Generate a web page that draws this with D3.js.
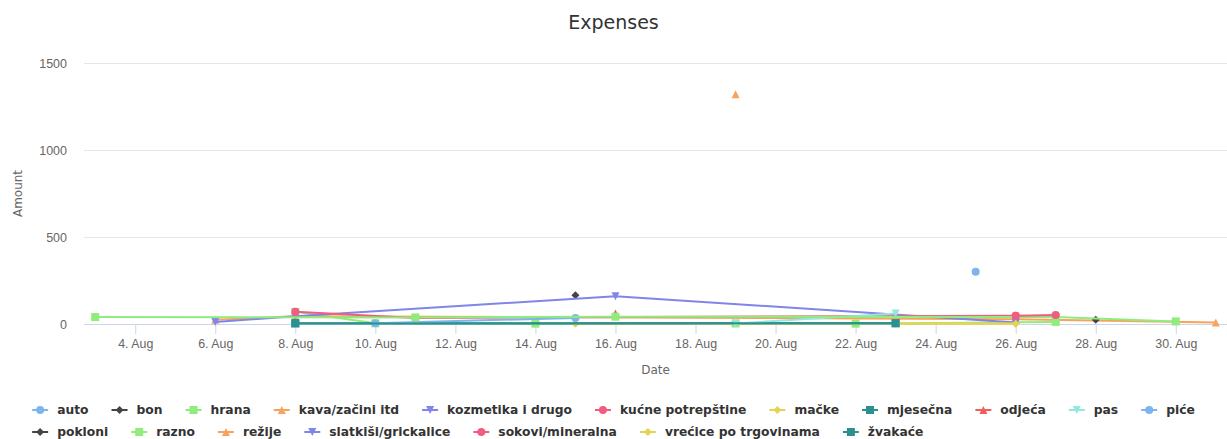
<!DOCTYPE html>
<html>
<head>
<meta charset="utf-8">
<script src="https://cdn.jsdelivr.net/npm/d3@7"></script>
<style>
  html, body { margin: 0; padding: 0; background: #fff; }
  svg { display: block; font-family: "DejaVu Sans", "Lucida Sans Unicode", Arial, sans-serif; }
</style>
</head>
<body>
<svg id="chart" width="1227" height="439"></svg>
<script>
// Expense categories, in legend order
const categories = [
  "auto", "bon", "hrana", "kava/začini itd", "kozmetika i drugo",
  "kućne potrepštine", "mačke", "mjesečna", "odjeća", "pas", "piće",
  "pokloni", "razno", "režije", "slatkiši/grickalice", "sokovi/mineralna",
  "vrećice po trgovinama", "žvakaće"
];

// Day of August for each entry, per category
const days = [
  [25],
  [15],
  [8, 10, 14, 19, 22, 27],
  [6, 8, 26, 31],
  [6, 8, 16, 26],
  [8, 11, 26],
  [15, 26],
  [8, 23],
  [16],
  [19, 23],
  [10, 15],
  [28],
  [3, 11, 16, 27, 30],
  [19],
  [26],
  [26, 27],
  [23, 26],
  [8, 23]
];

// Amount spent for each entry, per category
const amounts = [
  [300],
  [165],
  [70, 4, 2, 3, 2, 12],
  [25, 45, 28, 8],
  [12, 45, 160, 8],
  [70, 35, 48],
  [2, 3],
  [5, 5],
  [60],
  [3, 60],
  [5, 35],
  [25],
  [40, 38, 42, 40, 15],
  [1320],
  [6],
  [48, 52],
  [3, 2],
  [3, 4]
];

const yTicks = [0, 500, 1000, 1500];

const palette = ["#7cb5ec", "#434348", "#90ed7d", "#f7a35c", "#8085e9",
                 "#f15c80", "#e4d354", "#2b908f", "#f45b5b", "#91e8e1"];
const shapes = ["circle", "diamond", "square", "triangle", "triangle-down"];

const YEAR = 2019;
const date = d => new Date(YEAR, 7, d);

const series = categories.map((name, i) => ({
  name,
  color: palette[i % palette.length],
  shape: shapes[i % shapes.length],
  points: days[i].map((d, j) => ({ t: date(d), v: amounts[i][j] }))
}));

const svg = d3.select("#chart");
const W = 1227, H = 439;
const plot = { left: 84, right: 1227, top: 63, bottom: 324 };

// x domain padded by 1% of the data span on each side
const allT = series.flatMap(s => s.points.map(p => +p.t));
const tMin = d3.min(allT), tMax = d3.max(allT);
const pad = (tMax - tMin) * 0.01;
const x = d3.scaleTime()
  .domain([new Date(tMin - pad), new Date(tMax + pad)])
  .range([plot.left, plot.right]);
const y = d3.scaleLinear().domain([0, 1500]).range([plot.bottom, plot.top]);

// Title
svg.append("text")
  .attr("x", W / 2).attr("y", 29)
  .attr("text-anchor", "middle")
  .style("font-size", "19px").style("fill", "#333")
  .text("Expenses");

// Horizontal grid lines and y labels
const yAxis = d3.axisLeft(y).tickValues(yTicks).tickSize(-(plot.right - plot.left)).tickPadding(17)
  .tickFormat(d3.format("d"));
const gy = svg.append("g").attr("transform", `translate(${plot.left},0)`).call(yAxis);
gy.select(".domain").remove();
gy.selectAll(".tick line").attr("stroke", "#e6e6e6");
gy.selectAll(".tick text").style("font-size", "12.5px").style("fill", "#666").attr("font-family", null);

svg.append("text")
  .attr("transform", `translate(22,${(plot.top + plot.bottom) / 2}) rotate(-90)`)
  .attr("text-anchor", "middle")
  .style("font-size", "12px").style("fill", "#666")
  .text("Amount");

// X axis: every second day
const xTicks = d3.range(4, 31, 2).map(date);
const xAxis = d3.axisBottom(x).tickValues(xTicks).tickSize(10).tickPadding(5)
  .tickFormat(d => `${d.getDate()}. Aug`);
const gx = svg.append("g").attr("transform", `translate(0,${plot.bottom})`).call(xAxis);
gx.select(".domain").attr("stroke", "#ccd6eb").attr("d", `M${plot.left},0.5H${plot.right}`);
gx.selectAll(".tick line").attr("stroke", "#ccd6eb");
gx.selectAll(".tick text").style("font-size", "12.4px").style("fill", "#666").attr("font-family", null);

svg.append("text")
  .attr("x", (plot.left + plot.right) / 2).attr("y", 374)
  .attr("text-anchor", "middle")
  .style("font-size", "12px").style("fill", "#666")
  .text("Date");

// Marker path generator
function markerPath(shape, r) {
  switch (shape) {
    case "circle": return d3.symbol(d3.symbolCircle, Math.PI * r * r)();
    case "square": return `M${-r},${-r}H${r}V${r}H${-r}Z`;
    case "diamond": return `M0,${-r}L${r},0L0,${r}L${-r},0Z`;
    case "triangle": return `M0,${-r}L${r},${r}L${-r},${r}Z`;
    case "triangle-down": return `M${-r},${-r}L${r},${-r}L0,${r}Z`;
  }
}

const line = d3.line().x(p => x(p.t)).y(p => y(p.v));

const gSeries = svg.append("g");
series.forEach(s => {
  const g = gSeries.append("g");
  if (s.points.length > 1) {
    g.append("path")
      .attr("d", line(s.points))
      .attr("fill", "none")
      .attr("stroke", s.color)
      .attr("stroke-width", 2)
      .attr("stroke-linejoin", "round")
      .attr("stroke-linecap", "round");
  }
  g.selectAll("path.m").data(s.points).join("path")
    .attr("class", "m")
    .attr("transform", p => `translate(${x(p.t)},${y(p.v)})`)
    .attr("d", markerPath(s.shape, 4))
    .attr("fill", s.color);
});

// Legend: items flow left to right, wrap into rows, whole box centred
const legend = svg.append("g");
const rowY = [410, 432];
const textOffset = 25, itemDistance = 23, maxWidth = W - 16;
const items = series.map(s => {
  const g = legend.append("g");
  const t = g.append("text")
    .attr("x", textOffset).attr("dy", "0.35em")
    .style("font-size", "12.3px").style("font-weight", "bold").style("fill", "#333")
    .text(s.name);
  g.append("path").attr("d", "M0,0H16").attr("stroke", s.color).attr("stroke-width", 2);
  g.append("path").attr("transform", "translate(8,0)").attr("d", markerPath(s.shape, 4)).attr("fill", s.color);
  return { g, w: textOffset + t.node().getComputedTextLength() };
});
let cx = 0, row = 0, widest = 0;
items.forEach(it => {
  if (cx > 0 && cx + it.w > maxWidth) { row += 1; cx = 0; }
  it.x = cx; it.row = row;
  widest = Math.max(widest, cx + it.w);
  cx += it.w + itemDistance;
});
const legendLeft = (W - widest) / 2;
items.forEach(it => it.g.attr("transform", `translate(${legendLeft + it.x},${rowY[it.row]})`));
</script>
</body>
</html>
